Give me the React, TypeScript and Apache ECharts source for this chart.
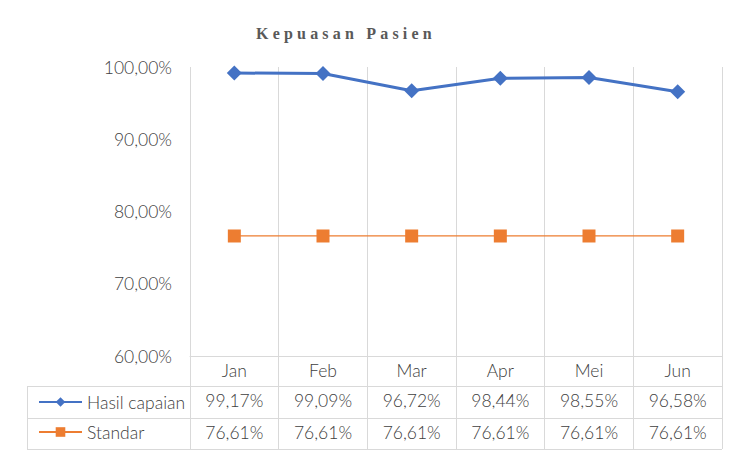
import React, { useEffect, useRef } from "react";
import * as echarts from "echarts";

const categories = ["Jan", "Feb", "Mar", "Apr", "Mei", "Jun"];
const hasilCapaian = [99.17, 99.09, 96.72, 98.44, 98.55, 96.58];
const standar = [76.61, 76.61, 76.61, 76.61, 76.61, 76.61];
const seriesNames = ["Hasil capaian", "Standar"];
const yMin = 60;
const yMax = 100;
const yStep = 10;

const FONT = "Lato";
const GRAY = "#404040";
const LINE = "#d9d9d9";

const fmt = (v: number) => v.toFixed(2).replace(".", ",") + "%";

const GL = 190;
const GR = 15;
const GT = 67;
const GB = 104;
const W = 737;
const H = 460;
const PLOT_BOTTOM = H - GB;
const ROW_TOPS = [PLOT_BOTTOM + 30, PLOT_BOTTOM + 62, PLOT_BOTTOM + 93];
const TABLE_LEFT = 27;

export default function App() {
  const ref = useRef<HTMLDivElement>(null);
  useEffect(() => {
    if (!ref.current) return;
    const chart = echarts.init(ref.current, undefined, { renderer: "svg" });
    const labelStyle = { color: GRAY, fontFamily: FONT, fontSize: 17.5, fontWeight: 300 };
    const hLines = ROW_TOPS.map((y) => ({
      type: "line",
      shape: { x1: TABLE_LEFT, y1: y + 0.5, x2: W - GR, y2: y + 0.5 },
      style: { stroke: LINE, lineWidth: 1 },
      silent: true,
    }));
    chart.setOption({
      animation: false,
      backgroundColor: "#ffffff",
      title: {
        text: "Kepuasan Pasien",
        left: 251,
        top: 20,
        textStyle: {
          fontFamily: "Liberation Serif",
          fontWeight: "bold",
          fontSize: 16,
          color: "#595959",
        },
      },
      legend: {
        data: seriesNames,
        orient: "vertical",
        left: 33,
        top: ROW_TOPS[0] + 2,
        itemWidth: 43,
        itemHeight: 12,
        itemGap: 12,
        textStyle: labelStyle,
      },
      grid: { left: GL, right: GR, top: GT, bottom: GB, containLabel: false },
      xAxis: [
        {
          type: "category",
          data: categories,
          boundaryGap: true,
          axisLine: { show: true, lineStyle: { color: LINE, width: 1 } },
          axisTick: {
            show: true,
            length: ROW_TOPS[2] - PLOT_BOTTOM,
            lineStyle: { color: LINE, width: 1 },
          },
          axisLabel: { ...labelStyle, margin: 5 },
          splitLine: { show: true, lineStyle: { color: LINE, width: 1 } },
        },
        {
          type: "category",
          data: categories,
          position: "bottom",
          offset: ROW_TOPS[0] - PLOT_BOTTOM,
          axisLine: { show: false },
          axisTick: { show: false },
          splitLine: { show: false },
          axisLabel: {
            ...labelStyle,
            margin: 5,
            formatter: (_v: string, i: number) => fmt(hasilCapaian[i]),
          },
        },
        {
          type: "category",
          data: categories,
          position: "bottom",
          offset: ROW_TOPS[1] - PLOT_BOTTOM,
          axisLine: { show: false },
          axisTick: { show: false },
          splitLine: { show: false },
          axisLabel: {
            ...labelStyle,
            margin: 5,
            formatter: (_v: string, i: number) => fmt(standar[i]),
          },
        },
      ],
      yAxis: {
        type: "value",
        min: yMin,
        max: yMax,
        interval: yStep,
        axisLine: { show: false },
        axisTick: { show: false },
        splitLine: { show: false },
        axisLabel: { ...labelStyle, margin: 18, formatter: (v: number) => fmt(v) },
      },
      series: [
        {
          name: seriesNames[0],
          type: "line",
          data: hasilCapaian,
          xAxisIndex: 0,
          symbol: "diamond",
          symbolSize: 15,
          z: 3,
          lineStyle: { color: "#4472C4", width: 3 },
          itemStyle: { color: "#4472C4" },
        },
        {
          name: seriesNames[1],
          type: "line",
          data: standar,
          xAxisIndex: 0,
          symbol: "rect",
          symbolSize: 13,
          z: 2,
          lineStyle: { color: "#ED7D31", width: 1.25 },
          itemStyle: { color: "#ED7D31" },
        },
      ],
      graphic: [
        ...hLines,
        {
          type: "line",
          shape: { x1: TABLE_LEFT + 0.5, y1: ROW_TOPS[0], x2: TABLE_LEFT + 0.5, y2: ROW_TOPS[2] },
          style: { stroke: LINE, lineWidth: 1 },
          silent: true,
        },
      ],
    });
    const texts = ref.current.querySelectorAll("text");
    texts.forEach((t) => {
      if (t.textContent === "Kepuasan Pasien") {
        (t as SVGTextElement).style.letterSpacing = "4.2px";
      }
    });
    return () => chart.dispose();
  }, []);
  return (
    <div
      ref={ref}
      style={{ position: "fixed", left: 0, top: 0, width: W, height: H }}
    />
  );
}
